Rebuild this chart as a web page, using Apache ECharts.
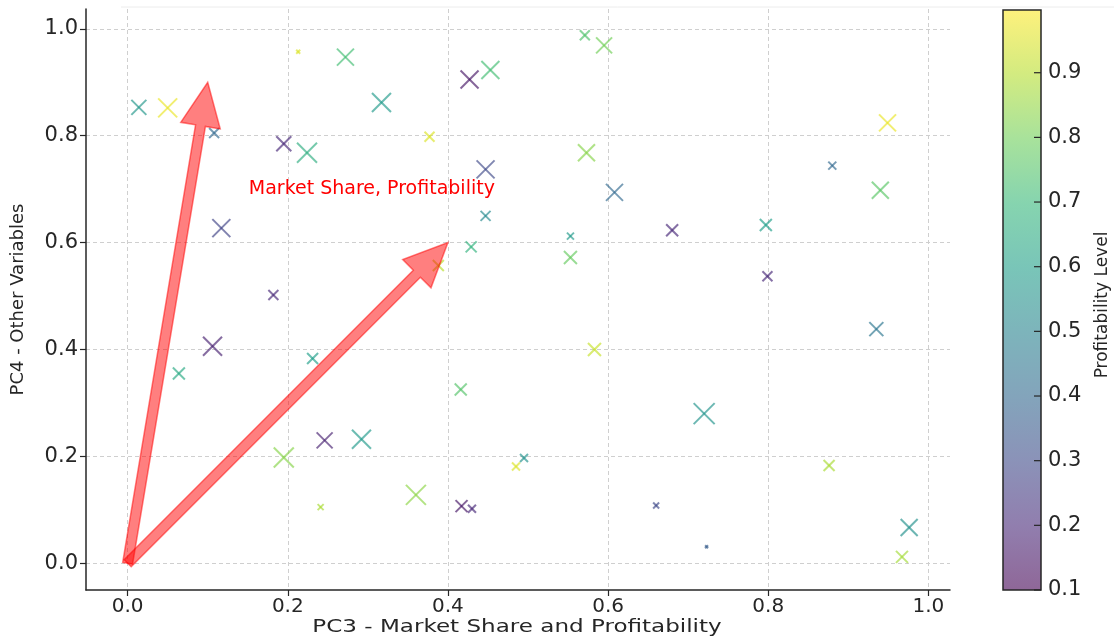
<!DOCTYPE html>
<html>
<head>
<meta charset="utf-8">
<script src="https://cdn.jsdelivr.net/npm/echarts@6/dist/echarts.min.js"></script>
<style>
  html, body { margin: 0; padding: 0; background: #fff; }
  #chart { width: 1114px; height: 642px; }
</style>
</head>
<body>
<div id="chart"></div>
<script>
// PCA projection: component scores, profitability level and relative size
const pc3 = [0.014, 0.050, 0.108, 0.195, 0.224, 0.213, 0.272, 0.317, 0.117, 0.182,
             0.106, 0.064, 0.231, 0.246, 0.292, 0.195, 0.241, 0.377, 0.427, 0.453,
             0.447, 0.447, 0.429, 0.388, 0.571, 0.595, 0.573, 0.608, 0.553, 0.553,
             0.680, 0.797, 0.799, 0.880, 0.940, 0.949, 0.935, 0.720, 0.876, 0.976,
             0.967, 0.723, 0.583, 0.416, 0.495, 0.485, 0.360, 0.417, 0.430, 0.660];
const pc4 = [0.853, 0.852, 0.805, 0.785, 0.768, 0.957, 0.947, 0.862, 0.627, 0.502,
             0.406, 0.355, 0.383, 0.230, 0.232, 0.198, 0.105, 0.798, 0.905, 0.923,
             0.737, 0.650, 0.592, 0.557, 0.988, 0.969, 0.768, 0.694, 0.612, 0.572,
             0.623, 0.633, 0.537, 0.744, 0.698, 0.824, 0.438, 0.280, 0.183, 0.067,
             0.012, 0.031, 0.400, 0.325, 0.197, 0.181, 0.128, 0.107, 0.102, 0.108];
const profitability = [0.57, 0.97, 0.40, 0.20, 0.66, 0.95, 0.72, 0.58, 0.28, 0.20,
                       0.18, 0.64, 0.60, 0.18, 0.58, 0.83, 0.88, 0.95, 0.15, 0.72,
                       0.30, 0.52, 0.68, 0.90, 0.74, 0.80, 0.83, 0.40, 0.58, 0.78,
                       0.20, 0.60, 0.20, 0.40, 0.76, 0.97, 0.45, 0.56, 0.88, 0.55,
                       0.87, 0.36, 0.92, 0.75, 0.55, 0.95, 0.84, 0.15, 0.20, 0.30];
const relSize = [0.75, 0.95, 0.50, 0.75, 1.00, 0.20, 0.85, 0.95, 0.90, 0.50,
                 0.95, 0.60, 0.55, 0.80, 0.95, 1.00, 0.30, 0.50, 0.90, 0.90,
                 0.90, 0.50, 0.55, 0.55, 0.50, 0.80, 0.85, 0.85, 0.35, 0.65,
                 0.60, 0.60, 0.50, 0.40, 0.85, 0.85, 0.70, 1.05, 0.55, 0.85,
                 0.60, 0.15, 0.65, 0.60, 0.40, 0.40, 1.00, 0.60, 0.40, 0.30];

// Loading vectors (end points from the origin) and their label
const loadingX = [0.1, 0.4];
const loadingY = [0.9, 0.6];
const loadingLabel = 'Market Share, Profitability';
const loadingLabelPos = [0.305, 0.700];

const axisTicks = [0.0, 0.2, 0.4, 0.6, 0.8, 1.0];
const barTicks = [0.1, 0.2, 0.3, 0.4, 0.5, 0.6, 0.7, 0.8, 0.9];
const barRange = [0.1, 0.997];

const viridis = ['#440154', '#482878', '#3e4989', '#31688e', '#26828e',
                 '#1f9e89', '#35b779', '#6ece58', '#b5de2b', '#fde725'];
const ALPHA = 0.6;
function blend(hex, a) {
  const n = parseInt(hex.slice(1), 16);
  const c = [(n >> 16) & 255, (n >> 8) & 255, n & 255].map(v => Math.round(v * a + 255 * (1 - a)));
  return 'rgb(' + c.join(',') + ')';
}

const points = pc3.map((x, i) => [x, pc4[i], profitability[i], relSize[i]]);
const loadings = loadingX.map((x, i) => [x, loadingY[i]]);

const FONT = "'DejaVu Sans', sans-serif";
const INK = '#262626';

const chart = echarts.init(document.getElementById('chart'), null, { renderer: 'canvas' });

// "x" markers, coloured by profitability through the visual map
function renderCross(params, api) {
  const c = api.coord([api.value(0), api.value(1)]);
  const h = api.value(3) * 20 / 2;
  const color = api.visual('color');
  const style = { stroke: color, lineWidth: 2, opacity: 0.66, lineCap: 'butt' };
  return {
    type: 'group',
    children: [
      { type: 'line', shape: { x1: c[0] - h, y1: c[1] - h, x2: c[0] + h, y2: c[1] + h }, style },
      { type: 'line', shape: { x1: c[0] - h, y1: c[1] + h, x2: c[0] + h, y2: c[1] - h }, style }
    ]
  };
}

// Loading arrows from the origin, head included in the vector length
function renderArrow(params, api) {
  const s = api.coord([0, 0]);
  const t = api.coord([api.value(0), api.value(1)]);
  const dx = t[0] - s[0], dy = t[1] - s[1];
  const len = Math.hypot(dx, dy);
  const ux = dx / len, uy = dy / len;
  const nx = -uy, ny = ux;
  const w = 5, hw = 20, hl = 44;
  const bx = t[0] - ux * hl, by = t[1] - uy * hl;
  const pts = [
    [s[0] + nx * w, s[1] + ny * w],
    [bx + nx * w, by + ny * w],
    [bx + nx * hw, by + ny * hw],
    [t[0], t[1]],
    [bx - nx * hw, by - ny * hw],
    [bx - nx * w, by - ny * w],
    [s[0] - nx * w, s[1] - ny * w]
  ];
  return {
    type: 'polygon',
    shape: { points: pts },
    style: { fill: 'rgba(255,0,0,0.5)', stroke: 'rgba(255,0,0,0.5)', lineWidth: 1.5, lineJoin: 'miter' }
  };
}

function renderLabel(params, api) {
  const c = api.coord([api.value(0), api.value(1)]);
  return {
    type: 'text',
    x: c[0], y: c[1],
    style: { text: loadingLabel, fill: '#ff0000', font: '19px ' + FONT, align: 'center', verticalAlign: 'middle' }
  };
}

// Colour bar: gradient rectangle plus inward tick marks on its right edge
function renderColorbar(params, api) {
  const a = api.coord([0, barRange[1]]);
  const b = api.coord([1, barRange[0]]);
  const x0 = Math.min(a[0], b[0]), x1 = Math.max(a[0], b[0]);
  const y0 = Math.min(a[1], b[1]), y1 = Math.max(a[1], b[1]);
  const stops = viridis.slice().reverse().map((c, i, arr) => ({ offset: i / (arr.length - 1), color: blend(c, ALPHA) }));
  const children = [{
    type: 'rect',
    shape: { x: x0, y: y0, width: x1 - x0, height: y1 - y0 },
    style: { fill: new echarts.graphic.LinearGradient(0, 0, 0, 1, stops), stroke: INK, lineWidth: 1.5 }
  }];
  barTicks.forEach(v => {
    const py = api.coord([0, v])[1];
    children.push({
      type: 'line',
      shape: { x1: x1 - 7, y1: py, x2: x1, y2: py },
      style: { stroke: INK, lineWidth: 1.2 }
    });
  });
  return { type: 'group', children };
}

const gridLine = { show: true, lineStyle: { color: '#cfcfcf', type: [4, 3], width: 1 } };
const tickLabel = { color: INK, fontFamily: FONT, fontSize: 21 };

chart.setOption({
  animation: false,
  backgroundColor: '#ffffff',
  grid: [
    { left: 86, top: 9, width: 864, height: 581, outerBoundsMode: 'none', containLabel: false },
    { left: 1003, top: 10, width: 38, height: 580, outerBoundsMode: 'none', containLabel: false }
  ],
  xAxis: [
    {
      gridIndex: 0, type: 'value', min: -0.052, max: 1.027,
      axisLine: { show: true, onZero: false, lineStyle: { color: INK, width: 1.5 } },
      axisTick: { show: true, length: 6, customValues: axisTicks, lineStyle: { color: INK, width: 1.2 } },
      axisLabel: { ...tickLabel, fontSize: 20, margin: 7, customValues: axisTicks, formatter: v => v.toFixed(1) },
      splitLine: gridLine
    },
    { gridIndex: 1, type: 'value', min: 0, max: 1, show: false }
  ],
  yAxis: [
    {
      gridIndex: 0, type: 'value', min: -0.050, max: 1.037,
      name: 'PC4 - Other Variables', nameLocation: 'middle', nameGap: 59,
      nameTextStyle: { color: INK, fontFamily: FONT, fontSize: 18 },
      axisLine: { show: true, onZero: false, lineStyle: { color: INK, width: 1.5 } },
      axisTick: { show: true, length: 6, customValues: axisTicks, lineStyle: { color: INK, width: 1.2 } },
      axisLabel: { ...tickLabel, margin: 8, customValues: axisTicks, formatter: v => v.toFixed(1) },
      splitLine: gridLine
    },
    {
      gridIndex: 1, type: 'value', min: barRange[0], max: barRange[1], position: 'right',
      axisLine: { show: false },
      axisTick: { show: false },
      axisLabel: { ...tickLabel, margin: 7, customValues: barTicks, formatter: v => v.toFixed(1) },
      splitLine: { show: false }
    }
  ],
  visualMap: {
    show: false, type: 'continuous', seriesIndex: 0, dimension: 2,
    min: barRange[0], max: barRange[1],
    inRange: { color: viridis }
  },
  graphic: [
    {
      type: 'text', x: 517, y: 627, scaleX: 1.28,
      style: { text: 'PC3 - Market Share and Profitability', fill: INK, font: '18px ' + FONT, align: 'center', verticalAlign: 'middle' }
    },
    {
      type: 'text', x: 1103, y: 305, rotation: Math.PI / 2,
      style: { text: 'Profitability Level', fill: INK, font: '17px ' + FONT, align: 'center', verticalAlign: 'middle' }
    },
    {
      type: 'line', shape: { x1: 121, y1: 7, x2: 1114, y2: 7 },
      style: { stroke: '#ececec', lineWidth: 1 }, silent: true
    }
  ],
  series: [
    {
      type: 'custom', xAxisIndex: 0, yAxisIndex: 0, data: points,
      renderItem: renderCross, clip: false, z: 3
    },
    {
      type: 'custom', xAxisIndex: 0, yAxisIndex: 0, data: loadings,
      renderItem: renderArrow, clip: false, z: 4
    },
    {
      type: 'custom', xAxisIndex: 0, yAxisIndex: 0, data: [loadingLabelPos],
      renderItem: renderLabel, clip: false, z: 5
    },
    {
      type: 'custom', xAxisIndex: 1, yAxisIndex: 1, data: [[0, 0]],
      renderItem: renderColorbar, clip: false, z: 2
    }
  ]
});
</script>
</body>
</html>
